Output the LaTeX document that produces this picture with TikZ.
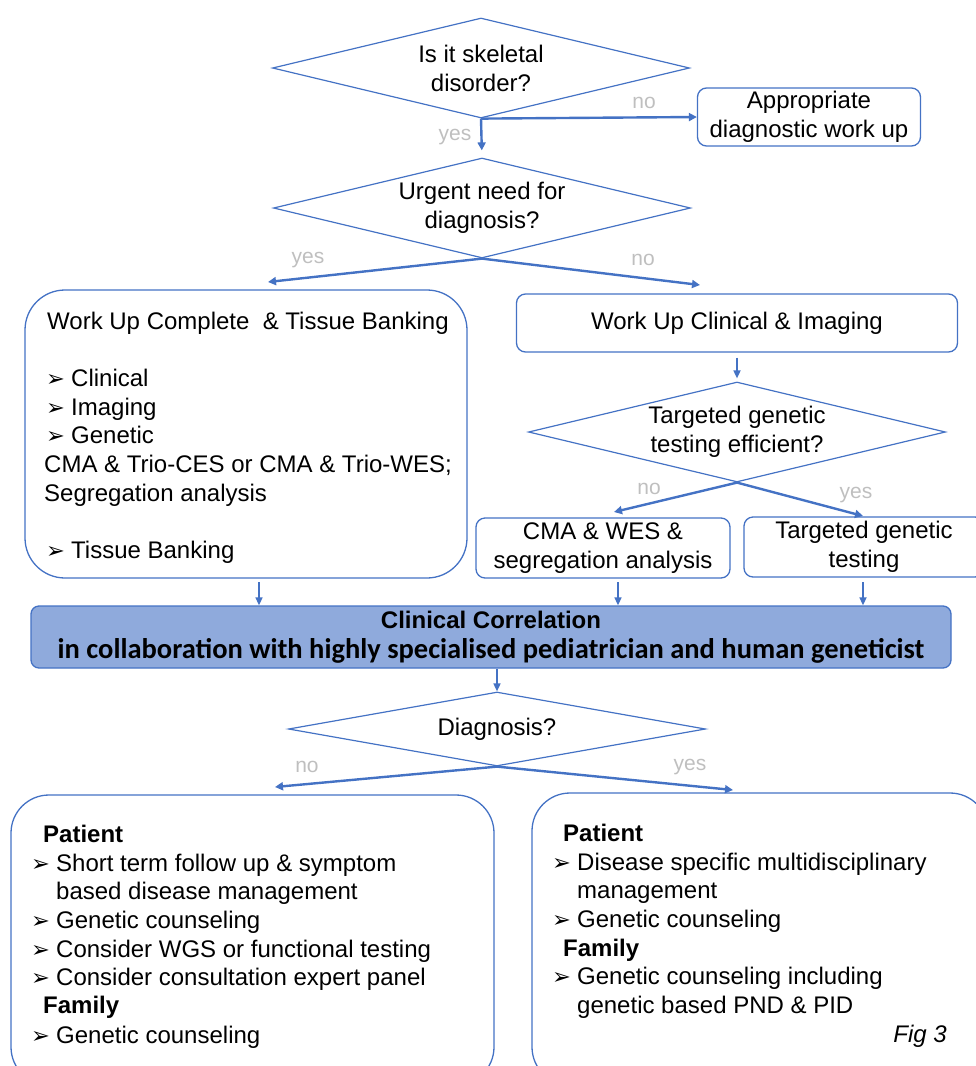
\documentclass[tikz,border=0pt]{standalone}
\usepackage{fontspec}
\setmainfont{Liberation Sans}
\newfontfamily\calib{Carlito}
\newfontfamily\dvs{DejaVu Sans}
\usetikzlibrary{arrows.meta,shapes.geometric,calc}
\definecolor{cLine}{HTML}{4472C4}
\definecolor{cFill}{HTML}{8FAADC}
\definecolor{cLbl} {HTML}{BFBFBF}
\newcommand{\txt}{\fontsize{24}{29}\selectfont}
\newcommand{\bul}{\makebox[25pt][l]{\dvs\fontsize{22.5}{22}\selectfont ➢}}
\tikzset{
  dia/.style  ={diamond,draw=cLine,line width=1.2pt,align=center,inner sep=-12pt,
                aspect=4.17,font=\txt,minimum width=417pt},
  box/.style  ={draw=cLine,line width=1.3pt,rounded corners=9pt,align=center,
                inner sep=0pt,font=\txt},
  big/.style  ={box,rounded corners=40pt},
  ans/.style  ={font=\fontsize{21}{25}\selectfont,text=cLbl,inner sep=0pt},
  sig/.style  ={-{Triangle[length=8pt,width=8pt]},draw=cLine,line width=2.4pt},
  vsig/.style ={sig,line width=1.6pt,-{Triangle[length=8pt,width=7pt]}},
  li/.style   ={anchor=base west,font=\txt,inner sep=0pt},
}

\begin{document}
\begin{tikzpicture}[x=1pt,y=-1pt]
\useasboundingbox (0,0) rectangle (976,1066);
\clip (0,0) rectangle (976,1066);

% ---------------- questions ----------------------------------------------
\node[dia,minimum height=100pt] (d1) at (481,68)  {Is it skeletal\\disorder?};
\node[dia,minimum height=100pt] (d2) at (482,208) {Urgent need for\\diagnosis?};
\node[dia,minimum height=100pt] (d3) at (737,432) {Targeted genetic\\testing efficient?};
\node[dia,aspect=5.6,minimum height=74pt] (d4) at (497,729) {Diagnosis?};

% ---------------- boxes --------------------------------------------------
\node[box,minimum width=223pt,minimum height=58pt] (appr) at (809,117)
  {Appropriate\\diagnostic work up};
\node[big,minimum width=442pt,minimum height=288pt] (wuc) at (246,434) {};
\node[box,minimum width=441pt,minimum height=58pt] (wuci) at (737,323)
  {Work Up Clinical \& Imaging};
\node[box,minimum width=254pt,minimum height=60pt] (cma) at (603,548)
  {CMA \& WES \&\\segregation analysis};
\node[box,minimum width=240pt,minimum height=60pt] (tgt) at (864,547)
  {Targeted genetic\\testing};
\node[box,fill=cFill,rounded corners=8pt,minimum width=920pt,minimum height=62pt] (cc) at (491,637)
  {\bfseries Clinical Correlation\\[1pt]
   {\calib\fontsize{28.5}{30}\selectfont\bfseries in collaboration with highly specialised pediatrician and human geneticist}};
\node[big,rounded corners=38pt,minimum width=483pt,minimum height=290pt] (nod) at (252.5,940) {};
\node[big,rounded corners=38pt,minimum width=456pt,minimum height=292pt] (yesd) at (760,939) {};

% ---------------- box texts ----------------------------------------------
\foreach \n/\x/\y/\t in {%
  1/47/329/{Work Up Complete\ \ \& Tissue Banking},
  2/46/386/{\bul Clinical},
  3/46/415/{\bul Imaging},
  4/46/443/{\bul Genetic},
  5/44/472/{CMA \& Trio-CES or CMA \& Trio-WES;},
  6/44/501/{Segregation analysis},
  7/46/558/{\bul Tissue Banking}}
  {\node[li] (w\n) at (\x,\y) {\t};}
\foreach \n/\x/\y/\t in {%
  1/43/842/{\textbf{Patient}},
  2/31/871/{\bul Short term follow up \& symptom},
  3/56/899/{based disease management},
  4/31/928/{\bul Genetic counseling},
  5/31/957/{\bul Consider WGS or functional testing},
  6/31/985/{\bul Consider consultation expert panel},
  7/43/1013/{\textbf{Family}},
  8/31/1043/{\bul Genetic counseling}}
  {\node[li] (p\n) at (\x,\y) {\t};}
\foreach \n/\x/\y/\t in {%
  1/563/841/{\textbf{Patient}},
  2/552/870/{\bul Disease specific multidisciplinary},
  3/577/898/{management},
  4/552/927/{\bul Genetic counseling},
  5/563/956/{\textbf{Family}},
  6/552/984/{\bul Genetic counseling including},
  7/577/1013/{genetic based PND \& PID}}
  {\node[li] (q\n) at (\x,\y) {\t};}
\node[li,anchor=base east,font=\txt\itshape] (fig) at (947,1042) {Fig 3};

% ---------------- answers ------------------------------------------------
\node[ans] (y1) at (455,137) {yes};
\node[ans] (n1) at (644,103) {no};
\node[ans] (y2) at (308,260) {yes};
\node[ans] (n2) at (643,260) {no};
\node[ans] (n3) at (649,489) {no};
\node[ans] (y3) at (856,495) {yes};
\node[ans] (n4) at (307,767) {no};
\node[ans] (y4) at (690,767) {yes};

% ---------------- connectors ---------------------------------------------
\coordinate (yA) at (268,282);
\coordinate (nA) at (700,285);
\coordinate (nB) at (614,512);
\coordinate (yB) at (863,516);
\coordinate (nC) at (275,787);
\coordinate (yC) at (733,790);
\coordinate (f1) at (259,582);
\coordinate (f2) at (618,582);
\coordinate (f3) at (863,582);
\coordinate (f4) at (497,669);

\draw[sig] (d1.south) -- (appr.west);
\draw[sig,shorten >=7pt] (d1.south) -- (d2.north);
\draw[sig] (d2.south) -- (yA);
\draw[sig] (d2.south) -- (nA);
\draw[vsig,shorten <=5pt,shorten >=3pt] (wuci.south) -- (d3.north);
\draw[sig] (d3.south) -- (nB);
\draw[sig] (d3.south) -- (yB);
\foreach \c in {f1,f2,f3}{\draw[vsig] (\c) -- (\c |- cc.north);}
\draw[vsig] (f4) -- (d4.north);
\draw[sig] (d4.south) -- (nC);
\draw[sig] (d4.south) -- (yC);
\end{tikzpicture}
\end{document}
